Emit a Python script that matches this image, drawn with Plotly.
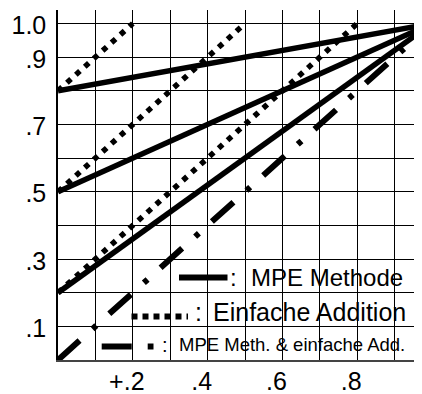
import plotly.graph_objects as go

# ---- data ----
grid_vals = [0.0, 0.1, 0.2, 0.3, 0.4, 0.5, 0.6, 0.7, 0.8, 0.9, 1.0]
x_tick_text = ["", "", "+.2", "", ".4", "", ".6", "", ".8", "", ""]
y_tick_text = ["", ".1", "", ".3", "", ".5", "", ".7", "", ".9", "1.0"]

# MPE Methode: p1 + p2 - p1*p2
mpe_x = [0.0, 1.0]
mpe_08 = [0.8, 1.0]
mpe_05 = [0.5, 1.0]
mpe_02 = [0.2, 1.0]

# Einfache Addition: p1 + p2
add_08_x = [0.0, 0.2]
add_08_y = [0.8, 1.0]
add_05_x = [0.0, 0.5]
add_05_y = [0.5, 1.0]
add_02_x = [0.0, 0.8]
add_02_y = [0.2, 1.0]

# MPE Meth. & einfache Add. (p1 = 0)
both_x = [0.0, 1.0]
both_y = [0.0, 1.0]

legend_labels = ["MPE Methode", "Einfache Addition", "MPE Meth. & einfache Add."]

OFF = 8  # page body margin of the browser
W, H = 422 - OFF, 394 - OFF
ML, MR, MT, MB = 58 - OFF, 0, 10 - OFF, 34
PW, PH = W - ML - MR, H - MT - MB

FONT = "Liberation Sans, Arial, sans-serif"

fig = go.Figure()

for ys in (mpe_08, mpe_05, mpe_02):
    fig.add_trace(go.Scatter(x=mpe_x, y=ys, mode="lines",
                             line=dict(color="black", width=5.5),
                             showlegend=False, hoverinfo="skip"))

for xs, ys in ((add_08_x, add_08_y), (add_05_x, add_05_y), (add_02_x, add_02_y)):
    fig.add_trace(go.Scatter(x=xs, y=ys, mode="lines",
                             line=dict(color="black", width=5.5, dash="5.5px,6.5px"),
                             showlegend=False, hoverinfo="skip"))

fig.add_trace(go.Scatter(x=both_x, y=both_y, mode="lines",
                         line=dict(color="black", width=6,
                                   dash="29px,17.5px,5px,17.5px"),
                         showlegend=False, hoverinfo="skip"))


def px2paper(px, py):
    # reference-window pixels -> paper coordinates
    return (px - OFF - ML) / PW, (H - MB - (py - OFF)) / PH


# ---- hand-drawn legend (inside plot, bottom right) ----
samples = [
    (179, 227.5, 277.5, "solid"),
    (131.5, 188, 316.5, "6px,5px"),
    (101.7, 153.5, 346.5, "30px,16px,6px,16px"),
]
for x0, x1, yy, dash in samples:
    a0, b0 = px2paper(x0, yy)
    a1, b1 = px2paper(x1, yy)
    fig.add_shape(type="line", xref="paper", yref="paper",
                  x0=a0, y0=b0, x1=a1, y1=b1,
                  line=dict(color="black", width=6, dash=dash))

colons = [(233, 277.5, 24), (198, 312, 25), (165, 345, 20)]
for cx, cy, fs in colons:
    a, b = px2paper(cx, cy)
    fig.add_annotation(x=a, y=b, xref="paper", yref="paper", text=":",
                       showarrow=False, xanchor="center", yanchor="middle",
                       font=dict(family=FONT, size=fs, color="black"))

texts = [(249, 277, 24), (211, 312, 25), (177, 344.5, 18.5)]
for (tx, ty, fs), label in zip(texts, legend_labels):
    a, b = px2paper(tx, ty)
    fig.add_annotation(x=a, y=b, xref="paper", yref="paper", text=label,
                       showarrow=False, xanchor="left", yanchor="middle",
                       font=dict(family=FONT, size=fs, color="black"))

fig.update_layout(
    width=W, height=H,
    margin=dict(l=ML, r=MR, t=MT, b=MB, pad=0, autoexpand=False),
    paper_bgcolor="white", plot_bgcolor="white",
    font=dict(family=FONT, size=25, color="black"),
    showlegend=False,
)
fig.update_xaxes(range=[0, 0.973], tickmode="array", tickvals=grid_vals,
                 ticktext=x_tick_text, showgrid=True, gridcolor="black",
                 gridwidth=1.2, zeroline=False, showline=True,
                 linecolor="#444444", linewidth=2, ticks="", automargin=False,
                 ticklabelstandoff=-2, ticklabelshift=-6,
                 ticklabeloverflow="allow",
                 tickfont=dict(family=FONT, size=25, color="black"))
fig.update_yaxes(range=[0, 1.04], tickmode="array", tickvals=grid_vals,
                 ticktext=y_tick_text, showgrid=True, gridcolor="black",
                 gridwidth=1.2, zeroline=False, showline=True,
                 linecolor="black", linewidth=1.5, ticks="", automargin=False,
                 ticklabelstandoff=5, ticklabelshift=2,
                 ticklabeloverflow="allow",
                 tickfont=dict(family=FONT, size=25, color="black"))

fig.write_html("out.html")
